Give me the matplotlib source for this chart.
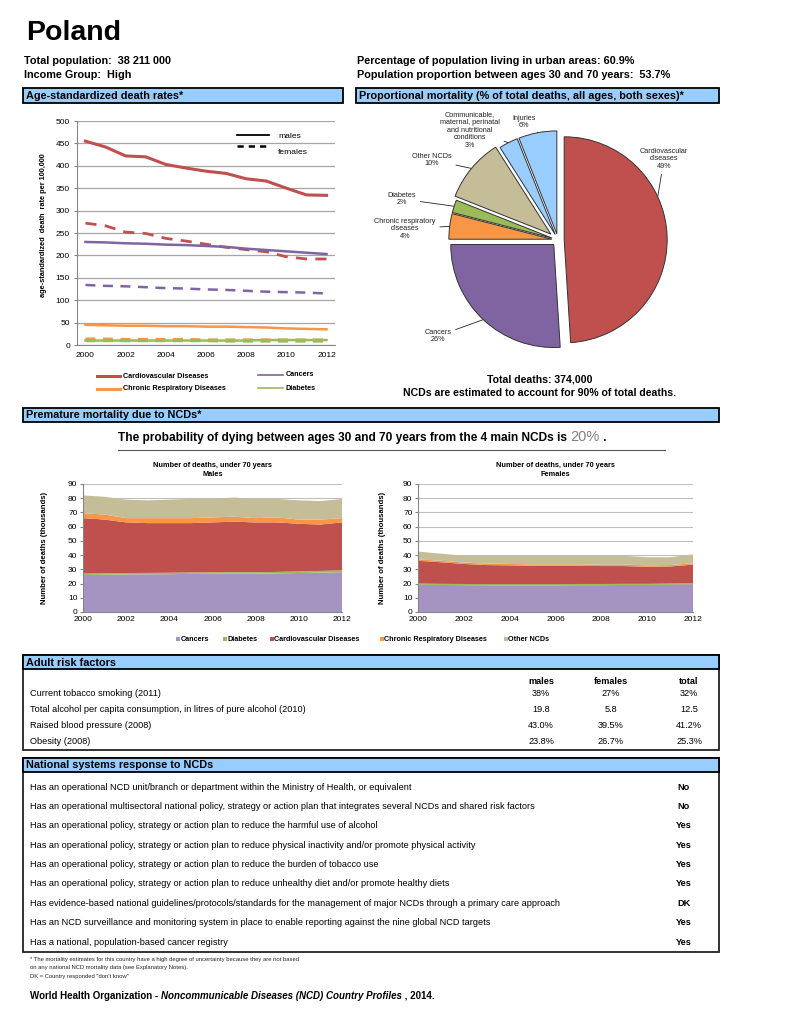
import matplotlib
matplotlib.use("Agg")
import matplotlib.pyplot as plt
import numpy as np
from matplotlib.patches import Rectangle

W, H = 791, 1024

years = list(range(2000, 2013))

# age-standardized death rates per 100 000
cvd_males = [455, 442, 422, 420, 403, 395, 388, 383, 371, 366, 350, 335, 334]
cvd_females = [272, 266, 252, 249, 238, 232, 225, 218, 213, 208, 197, 192, 192]
cancer_males = [230, 229, 227, 226, 224, 223, 221, 219, 215, 212, 209, 206, 203]
cancer_females = [134, 132, 131, 129, 127, 126, 124, 123, 121, 119, 118, 117, 115]
crd_males = [45, 44, 43, 43, 42, 42, 41, 41, 40, 39, 37, 36, 35]
crd_females = [14, 14, 13, 13, 13, 13, 12, 12, 12, 12, 12, 12, 12]
diab_males = [10, 10, 10, 10, 10, 10, 10, 10, 10, 11, 11, 11, 11]
diab_females = [9, 9, 9, 9, 9, 9, 9, 8, 8, 8, 8, 8, 8]

# proportional mortality
pie_labels = ["Cardiovascular\ndiseases\n49%", "Cancers\n26%",
              "Chronic respiratory\ndiseases\n4%", "Diabetes\n2%",
              "Other NCDs\n10%",
              "Communicable,\nmaternal, perinatal\nand nutritional\nconditions\n3%",
              "Injuries\n6%"]
pie_values = [49, 26, 4, 2, 10, 3, 6]

# deaths under 70 (thousands)
m_cancers = [26.0, 26.2, 26.4, 26.5, 26.6, 26.8, 26.9, 27.0, 27.0, 27.2, 27.4, 27.7, 28.0]
m_diabetes = [1.0, 1.0, 1.0, 1.0, 1.0, 1.0, 1.0, 1.0, 1.0, 1.0, 1.1, 1.2, 1.3]
m_cvd = [39.0, 37.8, 35.6, 35.0, 34.9, 34.7, 35.1, 35.5, 35.0, 34.8, 33.5, 32.6, 33.7]
m_crd = [3.5, 3.5, 3.0, 3.5, 3.5, 3.5, 3.5, 3.5, 3.0, 3.5, 3.0, 3.5, 3.0]
m_other = [12.5, 12.5, 13.0, 12.5, 13.0, 13.5, 13.0, 13.5, 13.5, 13.0, 13.5, 13.0, 13.5]

f_cancers = [19.2, 19.0, 18.9, 18.8, 18.8, 18.8, 18.8, 18.9, 18.9, 19.0, 19.0, 19.2, 19.5]
f_diabetes = [0.8, 0.8, 0.8, 0.8, 0.8, 0.8, 0.8, 0.8, 0.8, 0.8, 0.8, 0.8, 0.8]
f_cvd = [16.0, 15.2, 14.1, 13.4, 13.2, 12.9, 12.9, 12.8, 12.6, 12.5, 12.0, 12.0, 13.0]
f_crd = [1.0, 1.0, 1.0, 1.0, 1.0, 1.0, 1.0, 1.0, 1.0, 1.0, 1.0, 1.0, 1.0]
f_other = [5.5, 5.0, 4.7, 5.5, 5.7, 6.0, 6.0, 6.0, 6.2, 6.2, 5.7, 5.5, 6.2]

risk_labels = ["Current tobacco smoking (2011)",
               "Total alcohol per capita consumption, in litres of pure alcohol (2010)",
               "Raised blood pressure (2008)",
               "Obesity (2008)"]
risk_males = ["38%", "19.8", "43.0%", "23.8%"]
risk_females = ["27%", "5.8", "39.5%", "26.7%"]
risk_total = ["32%", "12.5", "41.2%", "25.3%"]

nat_questions = [
    "Has an operational NCD unit/branch or department within the Ministry of Health, or equivalent",
    "Has an operational multisectoral national policy, strategy or action plan that integrates several NCDs and shared risk factors",
    "Has an operational policy, strategy or action plan to reduce the harmful use of alcohol",
    "Has an operational policy, strategy or action plan to reduce physical inactivity and/or promote physical activity",
    "Has an operational policy, strategy or action plan to reduce the burden of tobacco use",
    "Has an operational policy, strategy or action plan to reduce unhealthy diet and/or promote healthy diets",
    "Has evidence-based national guidelines/protocols/standards for the management of major NCDs through a primary care approach",
    "Has an NCD surveillance and monitoring system in place to enable reporting against the nine global NCD targets",
    "Has a national, population-based cancer registry",
]
nat_answers = ["No", "No", "Yes", "Yes", "Yes", "Yes", "DK", "Yes", "Yes"]

RED = "#C0504D"
PURPLE = "#8064A2"
ORANGE = "#F79646"
GREEN = "#9BBB59"
TAN = "#C4BD97"
BLUE = "#99CCFF"
AREA_PURPLE = "#A593C2"

plt.rcParams['font.family'] = ['Liberation Sans', 'DejaVu Sans']

fig = plt.figure(figsize=(W / 100, H / 100), dpi=100)
page = fig.add_axes([0, 0, 1, 1])
page.set_xlim(0, W)
page.set_ylim(H, 0)
page.axis("off")


def px_axes(x0, y0, x1, y1):
    return fig.add_axes([x0 / W, 1 - y1 / H, (x1 - x0) / W, (y1 - y0) / H])


def header(x0, x1, y0, y1, text):
    page.add_patch(Rectangle((x0, y0), x1 - x0, y1 - y0, facecolor=BLUE,
                             edgecolor="black", lw=1.3))
    page.text(x0 + 3, (y0 + y1) / 2 + 0.5, text, fontsize=7.8, weight="bold",
              va="center")


# ---- top text
page.text(26, 40, "Poland", fontsize=20.5, weight="bold", va="baseline")
page.text(24, 64, "Total population:  38 211 000", fontsize=7.8, weight="bold")
page.text(24, 78, "Income Group:  High", fontsize=7.8, weight="bold")
page.text(357, 64, "Percentage of population living in urban areas: 60.9%",
          fontsize=7.8, weight="bold")
page.text(357, 78, "Population proportion between ages 30 and 70 years:  53.7%",
          fontsize=7.8, weight="bold")

header(23, 343, 88, 103, "Age-standardized death rates*")
header(356, 719, 88, 103, "Proportional mortality (% of total deaths, all ages, both sexes)*")

# ---- line chart
ax1 = px_axes(77, 121, 335, 345)
ax1.plot(years, cvd_males, color=RED, lw=2.2)
ax1.plot(years, cvd_females, color=RED, lw=2.0, ls=(0, (4, 3)))
ax1.plot(years, cancer_males, color=PURPLE, lw=1.8)
ax1.plot(years, cancer_females, color=PURPLE, lw=1.8, ls=(0, (4, 3)))
ax1.plot(years, crd_males, color=ORANGE, lw=1.8)
ax1.plot(years, crd_females, color=ORANGE, lw=1.8, ls=(0, (4, 3)))
ax1.plot(years, diab_males, color=GREEN, lw=1.8)
ax1.plot(years, diab_females, color=GREEN, lw=1.8, ls=(0, (4, 3)))
ax1.set_xlim(1999.58, 2012.42)
ax1.set_ylim(0, 500)
ax1.set_yticks(range(0, 501, 50))
ax1.set_xticks(range(2000, 2013, 2))
ax1.yaxis.grid(True, color="#A6A6A6", lw=0.9)
ax1.set_axisbelow(True)
for s in ["top", "right"]:
    ax1.spines[s].set_visible(False)
ax1.spines["left"].set_color("#868686")
ax1.spines["bottom"].set_color("#868686")
ax1.tick_params(labelsize=6, length=2, color="#868686", pad=3)
ax1.tick_params(axis="x", length=0, pad=5)
ax1.set_facecolor("none")

page.text(44, 225, "age-standardized  death  rate per 100,000", rotation=90,
          fontsize=5.3, weight="bold", ha="center", va="center")

page.plot([237, 269], [135, 135], color="black", lw=1.3)
page.plot([237, 269], [146, 146], color="black", lw=1.8, ls=(0, (2.5, 2)))
page.text(278, 137, "males", fontsize=6.1, va="center")
page.text(278, 152, "females", fontsize=6.1, va="center")

leg_lines = [((97, 120, 376), RED, 2.2, "Cardiovascular Diseases"),
             ((258, 283, 375), PURPLE, 1.2, "Cancers"),
             ((97, 120, 389), ORANGE, 2.2, "Chronic Respiratory Diseases"),
             ((258, 283, 388), GREEN, 1.2, "Diabetes")]
for (xa, xb, yy), c, lw, lab in leg_lines:
    page.plot([xa, xb], [yy, yy], color=c, lw=lw)
    page.text(xb + 3, yy, lab, fontsize=5.2, weight="bold", va="center")

# ---- pie
R = 103
cx, cy = 558, 240
axp = px_axes(cx - 1.3 * R, cy - 1.3 * R, cx + 1.3 * R, cy + 1.3 * R)
wedges, _ = axp.pie(pie_values, colors=[RED, PURPLE, ORANGE, GREEN, TAN, BLUE, BLUE],
                    startangle=90, counterclock=False,
                    explode=[0.06, 0.06, 0.06, 0.06, 0.09, 0.06, 0.06],
                    wedgeprops=dict(edgecolor="#333333", lw=0.7))
axp.set_xlim(-1.3, 1.3)
axp.set_ylim(-1.3, 1.3)
axp.set_facecolor("none")

label_pos = [(664, 159), (438, 336), (405, 229), (402, 199), (432, 160),
             (470, 130), (524, 122)]
leader_at = [0.63, 0.5, 0.5, 0.5, 0.5, 0.5, 0.5]
leader_rel = [(0.5, 0.5)] * 6 + [(1.0, 0.2)]
for w, lab, (lx, ly), f, rp in zip(wedges, pie_labels, label_pos, leader_at, leader_rel):
    th = np.deg2rad(w.theta1 + f * (w.theta2 - w.theta1))
    wx, wy = w.center
    pt = (wx + w.r * np.cos(th), wy + w.r * np.sin(th))
    page.annotate(lab, xy=pt, xycoords=axp.transData, xytext=(lx, ly),
                  textcoords="data", ha="center", va="center", fontsize=5.2,
                  linespacing=1.15, color="#222222",
                  arrowprops=dict(arrowstyle="-", lw=0.6, color="#222222",
                                  shrinkA=1, shrinkB=0, relpos=rp))

page.text(540, 380, "Total deaths: 374,000", fontsize=7.6, weight="bold",
          ha="center", va="center")
page.text(540, 393, "NCDs are estimated to account for 90% of total deaths.",
          fontsize=7.6, weight="bold", ha="center", va="center")

# ---- premature mortality
header(23, 719, 408, 422, "Premature mortality due to NCDs*")
t1 = page.text(118, 441, "The probability of dying between ages 30 and 70 years from the 4 main NCDs is ",
               fontsize=8.6, weight="bold", va="baseline")
t2 = page.annotate("20%", xy=(1, 0), xycoords=t1, va="bottom", fontsize=10.5,
                   color="#808080")
page.annotate(" .", xy=(1, 0), xycoords=t2, va="bottom", fontsize=8.6, weight="bold")
page.plot([118, 665], [450, 450], color="#555555", lw=0.8)

area_colors = [AREA_PURPLE, GREEN, RED, ORANGE, TAN]


def area_chart(rect, series, title, ylab_x):
    ax = px_axes(*rect)
    ax.stackplot(years, *series, colors=area_colors, lw=0)
    ax.set_xlim(2000, 2012)
    ax.set_ylim(0, 90)
    ax.set_yticks(range(0, 91, 10))
    ax.set_xticks(range(2000, 2013, 2))
    ax.yaxis.grid(True, color="#BFBFBF", lw=0.8)
    ax.set_axisbelow(True)
    for s in ["top", "right"]:
        ax.spines[s].set_visible(False)
    ax.spines["left"].set_color("#868686")
    ax.spines["bottom"].set_color("#868686")
    ax.tick_params(labelsize=6, length=2, color="#868686", pad=2)
    ax.tick_params(axis="x", length=0, pad=3)
    ax.set_facecolor("none")
    xm = (rect[0] + rect[2]) / 2
    page.text(xm, 470, title, fontsize=5.3, weight="bold", ha="center",
              va="center", linespacing=1.3)
    page.text(ylab_x, 548, "Number of deaths (thousands)", rotation=90,
              fontsize=5.6, weight="bold", ha="center", va="center")


area_chart((83, 484, 342, 612), [m_cancers, m_diabetes, m_cvd, m_crd, m_other],
           "Number of deaths, under 70 years\nMales", 45)
area_chart((418, 484, 693, 612), [f_cancers, f_diabetes, f_cvd, f_crd, f_other],
           "Number of deaths, under 70 years\nFemales", 382)

area_leg = [(176, AREA_PURPLE, "Cancers"), (223, GREEN, "Diabetes"),
            (270, RED, "Cardiovascular Diseases"),
            (380, ORANGE, "Chronic Respiratory Diseases"), (504, TAN, "Other NCDs")]
for x, c, lab in area_leg:
    page.add_patch(Rectangle((x, 637), 4, 4, color=c, lw=0))
    page.text(x + 4.5, 639.5, lab, fontsize=5.2, weight="bold", va="center")

# ---- adult risk factors
page.add_patch(Rectangle((23, 655), 696, 95, facecolor="none", edgecolor="#222222", lw=1.3))
header(23, 719, 655, 669, "Adult risk factors")
cols = [541, 611, 689]
for x, lab in zip(cols, ["males", "females", "total"]):
    page.text(x, 681, lab, fontsize=6.6, weight="bold", ha="center", va="center")
for i, lab in enumerate(risk_labels):
    y = 694 + 16 * i
    page.text(30, y, lab, fontsize=6.6, va="center")
    for x, v in zip(cols, [risk_males[i], risk_females[i], risk_total[i]]):
        page.text(x, y, v, fontsize=6.6, ha="center", va="center")

# ---- national systems response
page.add_patch(Rectangle((23, 758), 696, 194, facecolor="none", edgecolor="#222222", lw=1.3))
header(23, 719, 758, 772, "National systems response to NCDs")
for i, (q, a) in enumerate(zip(nat_questions, nat_answers)):
    y = 787 + 19.4 * i
    page.text(30, y, q, fontsize=6.6, va="center")
    page.text(684, y, a, fontsize=6.6, weight="bold", ha="center", va="center")

# ---- footnotes
notes = ["* The mortality estimates for this country have a high degree of uncertainty because they are not based",
         "on any national NCD mortality data (see Explanatory Notes).",
         "DK = Country responded \"don't know\""]
for i, n in enumerate(notes):
    page.text(30, 959 + 8.7 * i, n, fontsize=4.2, va="center", color="#222222")

f1 = page.text(30, 999, "World Health Organization - ", fontsize=7, weight="bold",
               va="baseline")
f2 = page.annotate("Noncommunicable Diseases (NCD) Country Profiles", xy=(1, 0),
                   xycoords=f1, va="bottom", fontsize=7, weight="bold", style="italic")
page.annotate(" , 2014.", xy=(1, 0), xycoords=f2, va="bottom", fontsize=7, weight="bold")

fig.savefig("out.png", dpi=100)
